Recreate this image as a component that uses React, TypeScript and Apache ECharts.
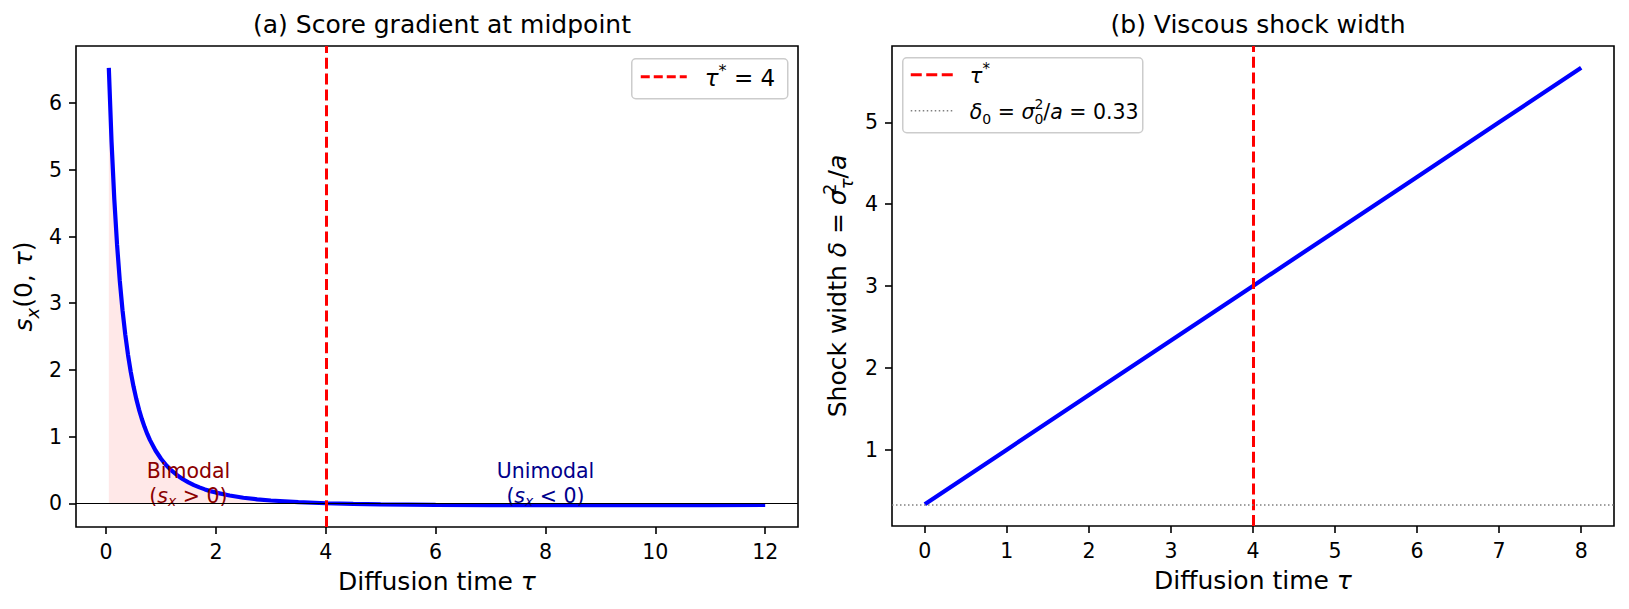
import React, { useEffect, useRef } from "react";
import * as echarts from "echarts";

// Panel (a): score gradient at the midpoint, s_x(0, tau)
const TAU_A = [
  0.05, 0.1, 0.15, 0.2, 0.25, 0.3, 0.35, 0.4, 0.45, 0.5, 0.55, 0.6, 0.65, 0.7, 0.75, 0.8, 0.9, 1.0,
  1.1, 1.2, 1.3, 1.4, 1.5, 1.6, 1.7, 1.8, 1.9, 2.0, 2.25, 2.5, 2.75, 3.0, 3.5, 4.0, 4.5, 5, 6, 7, 8,
  9, 10, 11, 12,
];
const SCORE_A = [
  6.529, 5.417, 4.556, 3.878, 3.333, 2.891, 2.526, 2.222, 1.967, 1.75, 1.565, 1.405, 1.267, 1.146,
  1.04, 0.947, 0.791, 0.667, 0.566, 0.484, 0.417, 0.36, 0.313, 0.272, 0.238, 0.208, 0.182, 0.16,
  0.116, 0.083, 0.059, 0.041, 0.016, 0, -0.01, -0.017, -0.024, -0.027, -0.028, -0.028, -0.027,
  -0.027, -0.026,
];
const TAU_STAR = 4;
const X_TICKS_A = [0, 2, 4, 6, 8, 10, 12];
const Y_TICKS_A = [0, 1, 2, 3, 4, 5, 6];
const BIMODAL_AT = [1.5, 0.3];
const UNIMODAL_AT = [8, 0.3];

// Panel (b): viscous shock width delta = sigma_tau^2 / a
const TAU_B = [0, 1, 2, 3, 4, 5, 6, 7, 8];
const WIDTH_B = [0.333, 1.0, 1.667, 2.333, 3.0, 3.667, 4.333, 5.0, 5.667];
const DELTA_0 = 0.333;
const X_TICKS_B = [0, 1, 2, 3, 4, 5, 6, 7, 8];
const Y_TICKS_B = [1, 2, 3, 4, 5];

const FONT = "DejaVu Sans";
const TICK_FS = 20.5;
const LABEL_FS = 25;
const TITLE_FS = 25;

// Rich-text styles for simple math: n = roman, i = italic, sub/sup = scripts.
const mathRich = (fs: number, color = "#000", padScale = 0.18) => {
  const pad = Math.round(fs * padScale);
  const sfs = Math.round(fs * 0.7);
  const base = { fontFamily: FONT, color, textBorderWidth: 0, textShadowBlur: 0, opacity: 1 };
  return {
    n: { ...base, fontSize: fs, padding: [pad, 0, pad, 0] },
    i: { ...base, fontSize: fs, fontStyle: "italic", padding: [pad, 0, pad, 0] },
    sub: { ...base, fontSize: sfs, fontStyle: "italic", verticalAlign: "bottom" },
    subn: { ...base, fontSize: sfs, verticalAlign: "bottom" },
    sup: { ...base, fontSize: sfs, verticalAlign: "top" },
    sup0: { ...base, fontSize: sfs, verticalAlign: "top", width: 0 },
  };
};

const valueAxis = (
  gridIndex: number,
  min: number,
  max: number,
  ticks: number[],
  extra: any = {}
) => ({
  type: "value",
  gridIndex,
  min,
  max,
  axisLine: { show: false, onZero: false },
  splitLine: { show: false },
  axisTick: {
    show: true,
    length: 7,
    lineStyle: { color: "#000", width: 1.6 },
    customValues: ticks,
  },
  axisLabel: {
    show: true,
    fontFamily: FONT,
    fontSize: TICK_FS,
    color: "#000",
    margin: 14,
    customValues: ticks,
  },
  ...extra,
});

const annotation = (value: number[], text: string, color: string) => ({
  value,
  label: {
    show: true,
    position: "inside",
    align: "center",
    verticalAlign: "middle",
    color,
    opacity: 1,
    textBorderWidth: 0,
    formatter: text,
    rich: mathRich(TICK_FS, color, 0.1),
  },
});

export default function App() {
  const ref = useRef<HTMLDivElement>(null);

  useEffect(() => {
    document.body.style.margin = "0";
    if (!ref.current) return;
    const chart = echarts.init(ref.current, undefined, { renderer: "svg" });

    const curveA = TAU_A.map((t, k) => [t, SCORE_A[k]]);
    const fillA = curveA.filter((p) => p[0] <= TAU_STAR);
    const lineB = TAU_B.map((t, k) => [t, WIDTH_B[k]]);

    const gridA = { left: 76, top: 46, width: 722, height: 481 };
    const gridB = { left: 892, top: 46, width: 722, height: 480 };

    const option: any = {
      animation: false,
      backgroundColor: "#fff",
      title: [
        {
          text: "(a) Score gradient at midpoint",
          left: gridA.left + gridA.width / 2,
          top: 7,
          textAlign: "center",
          textStyle: { fontFamily: FONT, fontSize: TITLE_FS, fontWeight: "normal", color: "#000" },
        },
        {
          text: "(b) Viscous shock width",
          left: gridB.left + gridB.width / 2,
          top: 7,
          textAlign: "center",
          textStyle: { fontFamily: FONT, fontSize: TITLE_FS, fontWeight: "normal", color: "#000" },
        },
      ],
      grid: [
        { ...gridA, show: true, borderColor: "#000", borderWidth: 1.6, containLabel: false },
        { ...gridB, show: true, borderColor: "#000", borderWidth: 1.6, containLabel: false },
      ],
      xAxis: [
        valueAxis(0, -0.5475, 12.5975, X_TICKS_A, {
          name: "{n|Diffusion time }{i|τ}",
          nameLocation: "middle",
          nameGap: 37,
          nameTextStyle: { rich: mathRich(LABEL_FS) },
        }),
        valueAxis(1, -0.4, 8.4, X_TICKS_B, {
          name: "{n|Diffusion time }{i|τ}",
          nameLocation: "middle",
          nameGap: 37,
          nameTextStyle: { rich: mathRich(LABEL_FS) },
        }),
      ],
      yAxis: [
        valueAxis(0, -0.356, 6.857, Y_TICKS_A, {
          name: "{i|s}{sub|x}{n|(0, }{i|τ}{n|)}",
          nameLocation: "middle",
          nameGap: 35,
          nameTextStyle: { rich: mathRich(LABEL_FS) },
        }),
        valueAxis(1, 0.0667, 5.933, Y_TICKS_B, {
          name: "{n|Shock width }{i|δ}{n| = }{i|σ}{sup0|2}{sub|τ}{n|/}{i|a}",
          nameLocation: "middle",
          nameGap: 37,
          nameTextStyle: { rich: mathRich(LABEL_FS) },
        }),
      ],
      series: [
        {
          type: "line",
          xAxisIndex: 0,
          yAxisIndex: 0,
          data: fillA,
          symbol: "none",
          lineStyle: { width: 0.8, color: "rgba(255,0,0,0.15)" },
          areaStyle: { color: "rgba(255,0,0,0.13)", origin: 0 },
          silent: true,
          z: 1,
        },
        {
          type: "line",
          xAxisIndex: 0,
          yAxisIndex: 0,
          data: curveA,
          symbol: "none",
          lineStyle: { width: 4.2, color: "#0000ff" },
          silent: true,
          z: 2,
        },
        {
          type: "line",
          xAxisIndex: 0,
          yAxisIndex: 0,
          data: [],
          silent: true,
          z: 3,
          markLine: {
            silent: true,
            symbol: "none",
            label: { show: false },
            data: [
              { yAxis: 0, lineStyle: { color: "#000", width: 1.1, type: "solid" } },
              { xAxis: TAU_STAR, lineStyle: { color: "#ff0000", width: 3, type: [11, 4.8] } },
            ],
          },
        },
        {
          type: "scatter",
          xAxisIndex: 0,
          yAxisIndex: 0,
          symbolSize: 1,
          itemStyle: { color: "transparent", opacity: 1 },
          silent: true,
          z: 4,
          data: [
            annotation(BIMODAL_AT, "{n|Bimodal}\n{n|(}{i|s}{sub|x}{n| > 0)}", "#8b0000"),
            annotation(UNIMODAL_AT, "{n|Unimodal}\n{n|(}{i|s}{sub|x}{n| < 0)}", "#00008b"),
          ],
        },
        {
          type: "line",
          xAxisIndex: 1,
          yAxisIndex: 1,
          data: lineB,
          symbol: "none",
          lineStyle: { width: 4.2, color: "#0000ff" },
          silent: true,
          z: 2,
        },
        {
          type: "line",
          xAxisIndex: 1,
          yAxisIndex: 1,
          data: [],
          silent: true,
          z: 3,
          markLine: {
            silent: true,
            symbol: "none",
            label: { show: false },
            data: [
              { xAxis: TAU_STAR, lineStyle: { color: "#ff0000", width: 3, type: [11, 4.8] } },
              { yAxis: DELTA_0, lineStyle: { color: "#808080", width: 1.5, type: [1.5, 2.5] } },
            ],
          },
        },
      ],
      graphic: [
        // legend of panel (a)
        {
          type: "group",
          left: 631,
          top: 58,
          children: [
            {
              type: "rect",
              shape: { x: 0, y: 0, width: 156, height: 40, r: 4 },
              style: { fill: "rgba(255,255,255,0.8)", stroke: "#cccccc", lineWidth: 1.5 },
            },
            {
              type: "line",
              shape: { x1: 9, y1: 18, x2: 55, y2: 18 },
              style: { stroke: "#ff0000", lineWidth: 3, lineDash: [9, 4] },
            },
            {
              type: "text",
              x: 73,
              y: 19,
              style: {
                text: "{i|τ}{sup|*}{n| = 4}",
                verticalAlign: "middle",
                rich: mathRich(23),
              },
            },
          ],
        },
        // legend of panel (b)
        {
          type: "group",
          left: 902,
          top: 57,
          children: [
            {
              type: "rect",
              shape: { x: 0, y: 0, width: 240, height: 75, r: 4 },
              style: { fill: "rgba(255,255,255,0.8)", stroke: "#cccccc", lineWidth: 1.5 },
            },
            {
              type: "line",
              shape: { x1: 8, y1: 17, x2: 51, y2: 17 },
              style: { stroke: "#ff0000", lineWidth: 3, lineDash: [11, 4.5] },
            },
            {
              type: "text",
              x: 67,
              y: 18,
              style: {
                text: "{i|τ}{sup|*}",
                verticalAlign: "middle",
                rich: mathRich(21),
              },
            },
            {
              type: "line",
              shape: { x1: 8, y1: 53, x2: 51, y2: 53 },
              style: { stroke: "#808080", lineWidth: 1.5, lineDash: [1.5, 2.5] },
            },
            {
              type: "text",
              x: 67,
              y: 54,
              style: {
                text: "{i|δ}{subn|0}{n| = }{i|σ}{sup0|2}{subn|0}{n|/}{i|a}{n| = 0.33}",
                verticalAlign: "middle",
                rich: mathRich(20.5),
              },
            },
          ],
        },
      ],
    };

    chart.setOption(option);
    return () => chart.dispose();
  }, []);

  return <div ref={ref} style={{ width: 1629, height: 609 }} />;
}
